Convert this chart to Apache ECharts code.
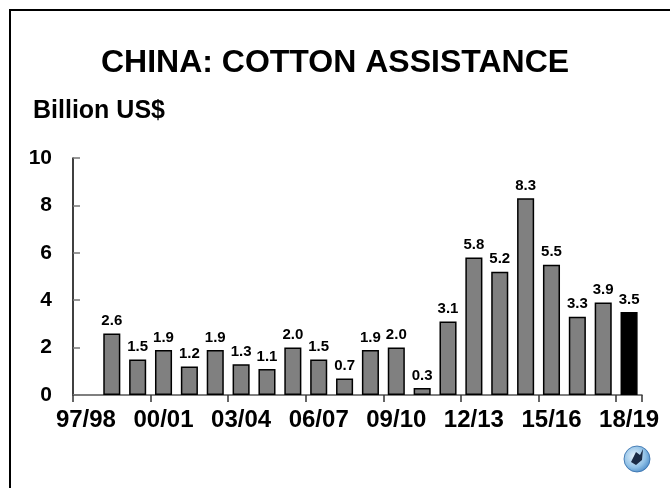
<!DOCTYPE html>
<html>
<head>
<meta charset="utf-8">
<script src="https://cdn.jsdelivr.net/npm/echarts@6/dist/echarts.min.js"></script>
<style>
html,body{margin:0;padding:0;background:#fff;}
#chart{width:670px;height:488px;}
</style>
</head>
<body>
<div id="chart"></div>
<script>
var titleText = 'CHINA: COTTON ASSISTANCE';
var unitText = 'Billion US$';
var categories = ['97/98','98/99','99/00','00/01','01/02','02/03','03/04','04/05','05/06','06/07','07/08','08/09','09/10','10/11','11/12','12/13','13/14','14/15','15/16','16/17','17/18','18/19'];
var values = [null, 2.6, 1.5, 1.9, 1.2, 1.9, 1.3, 1.1, 2.0, 1.5, 0.7, 1.9, 2.0, 0.3, 3.1, 5.8, 5.2, 8.3, 5.5, 3.3, 3.9, 3.5];
var highlightIndex = 21;

var FONT = '"Liberation Sans", Arial, Helvetica, sans-serif';
var chart = echarts.init(document.getElementById('chart'), null, {renderer: 'canvas'});

var seriesData = values.map(function (v, i) {
  if (i === highlightIndex) {
    return {value: v, itemStyle: {color: '#000000'}};
  }
  return v;
});

chart.setOption({
  backgroundColor: '#ffffff',
  animation: false,
  title: {
    text: titleText,
    left: 'center',
    top: 42,
    textStyle: {fontFamily: FONT, fontSize: 32, fontWeight: 'bold', color: '#000'}
  },
  grid: {left: 73, right: 28, top: 158, bottom: 93, containLabel: false},
  xAxis: {
    type: 'category',
    data: categories,
    boundaryGap: true,
    axisLine: {lineStyle: {color: '#555', width: 1.5}},
    axisTick: {
      show: true,
      length: 7,
      alignWithLabel: false,
      interval: function (i) { return i % 3 === 0; },
      lineStyle: {color: '#333', width: 1.5}
    },
    axisLabel: {
      interval: function (i) { return i % 3 === 0; },
      margin: 13,
      fontFamily: FONT,
      fontSize: 24,
      fontWeight: 'bold',
      color: '#000'
    },
    splitLine: {show: false}
  },
  yAxis: {
    type: 'value',
    min: 0,
    max: 10,
    interval: 2,
    axisLine: {show: true, lineStyle: {color: '#000', width: 1.5}},
    axisTick: {show: true, inside: true, length: 7, lineStyle: {color: '#777', width: 1.5}},
    axisLabel: {
      margin: 21,
      fontFamily: FONT,
      fontSize: 21,
      fontWeight: 'bold',
      color: '#000'
    },
    splitLine: {show: false}
  },
  series: [{
    type: 'bar',
    data: seriesData,
    barCategoryGap: '34%',
    itemStyle: {color: '#808080', borderColor: '#000', borderWidth: 1.5},
    label: {
      show: true,
      position: 'top',
      distance: 5,
      fontFamily: FONT,
      fontSize: 15,
      fontWeight: 'bold',
      color: '#000',
      formatter: function (p) { return p.value == null ? '' : Number(p.value).toFixed(1); }
    }
  }],
  graphic: [
    {
      type: 'rect',
      shape: {x: 10, y: 10, width: 700, height: 520},
      style: {fill: null, stroke: '#000', lineWidth: 2},
      silent: true
    },
    {
      type: 'text',
      x: 33,
      y: 99,
      style: {text: unitText, font: 'bold 25px ' + FONT, fill: '#000', textVerticalAlign: 'top'}
    },
    {
      type: 'circle',
      shape: {cx: 637, cy: 459, r: 13},
      style: {
        fill: new echarts.graphic.RadialGradient(0.4, 0.4, 0.7, [
          {offset: 0, color: '#e6f2fb'},
          {offset: 0.6, color: '#8fc0e6'},
          {offset: 1, color: '#3d7fc0'}
        ]),
        stroke: '#2f6aa8',
        lineWidth: 0.8
      }
    },
    {
      type: 'polygon',
      shape: {points: [[631, 462], [636, 452], [640, 455], [643, 449], [642, 460], [636, 465]]},
      style: {fill: '#1a2a44'}
    }
  ]
});
</script>
</body>
</html>
